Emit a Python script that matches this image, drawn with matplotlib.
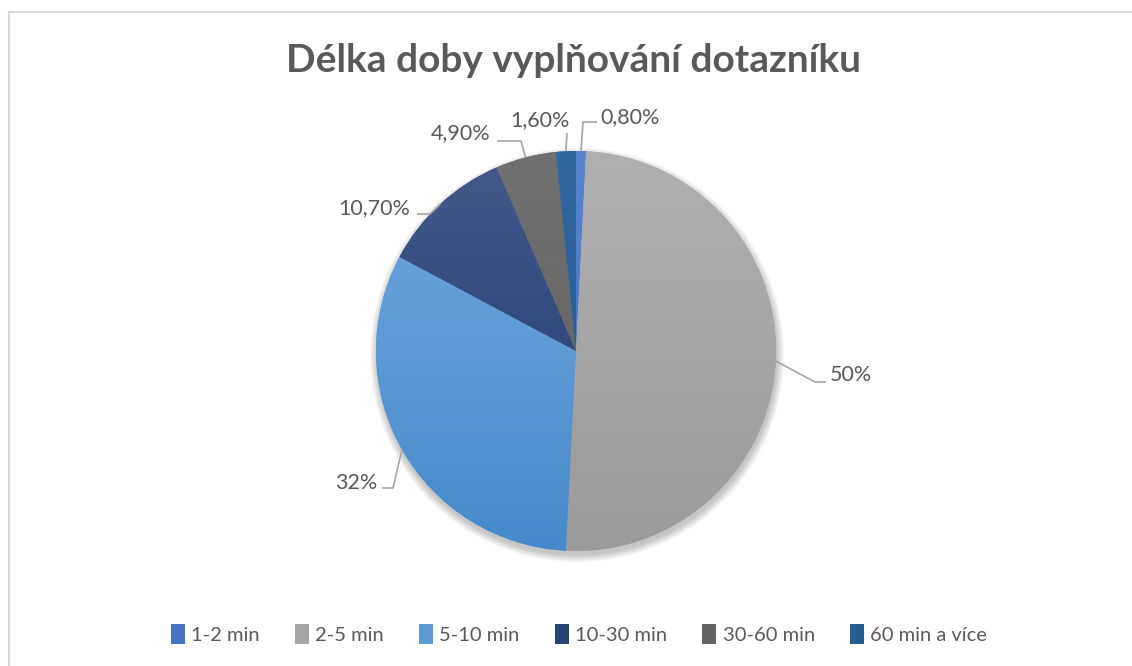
import numpy as np
import matplotlib
matplotlib.use("Agg")
import matplotlib.pyplot as plt
from matplotlib.colors import to_rgb
from matplotlib.patches import Patch, Circle

# Data
categories = ["1-2 min", "2-5 min", "5-10 min", "10-30 min", "30-60 min", "60 min a více"]
shares = [0.8, 50, 32, 10.7, 4.9, 1.6]
title = "Délka doby vyplňování dotazníku"

# Styles: (top colour, bottom colour) for a light vertical gradient
colors_top = ["#5A84D2", "#B0B0B0", "#72A8DE", "#46598A", "#707070", "#3168A0"]
colors_bot = ["#3F6CC0", "#9B9B9B", "#468ACB", "#1C3770", "#5E5E5E", "#22558A"]
legend_colors = ["#4472C4", "#A5A5A5", "#5B9BD5", "#264478", "#636363", "#255E91"]

# label layout: text position, alignment, elbow point, line end (pie radius = 1)
label_layout = [
    ((0.12, 1.17), "left", (0.035, 1.145), (0.105, 1.145)),
    ((1.27, -0.12), "left", (1.195, -0.155), (1.25, -0.155)),
    ((-0.995, -0.66), "right", (-0.915, -0.685), (-0.97, -0.685)),
    ((-0.83, 0.715), "right", (-0.73, 0.685), (-0.795, 0.685)),
    ((-0.43, 1.09), "right", (-0.275, 1.05), (-0.395, 1.05)),
    ((-0.18, 1.155), "center", (-0.045, 1.09), (-0.045, 1.09)),
]

TEXT = "#595959"
plt.rcParams["font.family"] = ["Lato", "DejaVu Sans"]

W, H = 1132, 666
cx, cy, R = 576, 351, 200
fig = plt.figure(figsize=(W / 100, H / 100), dpi=100)
ax = fig.add_axes([0, 0, 1, 1])

# chart border (left and top edges only visible)
fig.add_artist(plt.Line2D([8.5 / W, 8.5 / W], [0, 1 - 12 / H], color="#D9D9D9", lw=1.5))
fig.add_artist(plt.Line2D([8.5 / W, 1], [1 - 12 / H, 1 - 12 / H], color="#D9D9D9", lw=1.5))

# soft shadow
for i in range(10):
    ax.add_patch(Circle((0.005, -0.02), 1.0 + i * 0.004, color="black", alpha=0.025, lw=0, zorder=1))

wedges, _ = ax.pie(shares, startangle=90, counterclock=False, radius=1,
                   colors=legend_colors, wedgeprops=dict(lw=0))
for w in wedges:
    w.set_zorder(2)

# vertical gradient inside each wedge
ny = 256
for w, ct, cb in zip(wedges, colors_top, colors_bot):
    t = np.linspace(0, 1, ny)[:, None]
    grad = (1 - t) * np.array(to_rgb(ct)) + t * np.array(to_rgb(cb))
    img = np.repeat(grad[:, None, :], 2, axis=1)
    im = ax.imshow(img, extent=[-1, 1, -1, 1], origin="upper", zorder=3, interpolation="bilinear")
    im.set_clip_path(w)

# labels with leader lines
for w, v, (tpos, ha, elbow, end) in zip(wedges, shares, label_layout):
    ang = np.deg2rad((w.theta1 + w.theta2) / 2)
    start = (np.cos(ang), np.sin(ang))
    ax.plot([start[0], elbow[0], end[0]], [start[1], elbow[1], end[1]],
            color="#A6A6A6", lw=1.2, zorder=4, solid_capstyle="butt")
    txt = f"{v:g}%" if float(v).is_integer() else f"{v:.2f}%".replace(".", ",")
    ax.text(tpos[0], tpos[1], txt, ha=ha, va="center", fontsize=15.5, color=TEXT, zorder=5)

# pie() resets limits, so fix the frame afterwards
ax.set_xlim(-cx / R, (W - cx) / R)
ax.set_ylim(-(H - cy) / R, cy / R)
ax.set_aspect("equal")
ax.axis("off")

fig.text(574 / W, 1 - 60 / H, title, ha="center", va="center", fontsize=28,
         fontweight="bold", color=TEXT)

handles = [Patch(facecolor=c, edgecolor="none") for c in legend_colors]
fig.legend(handles, categories, loc="center", bbox_to_anchor=(579 / W, 1 - 634 / H),
           ncol=6, frameon=False, fontsize=14.5, handlelength=0.7, handleheight=1.1,
           handletextpad=0.3, columnspacing=1.75, labelcolor=TEXT)

fig.savefig("out.png", dpi=100, facecolor="white")
